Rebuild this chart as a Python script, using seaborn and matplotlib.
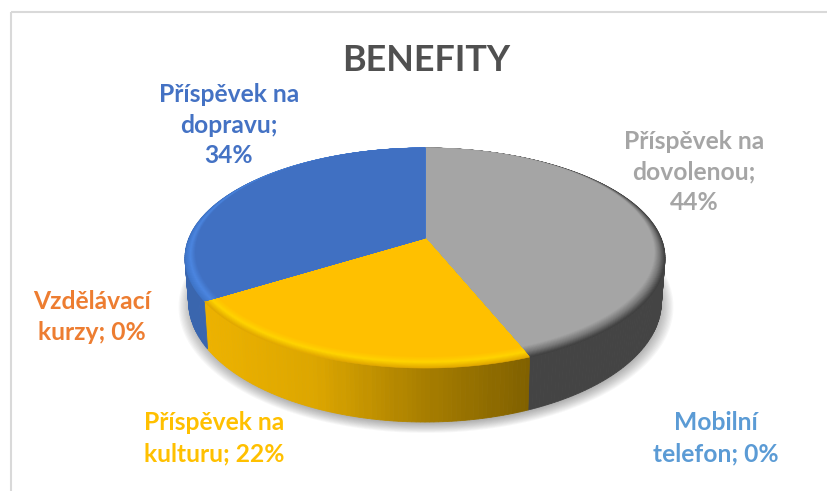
import numpy as np
import matplotlib
matplotlib.use("Agg")
import matplotlib.pyplot as plt
import seaborn as sns

TITLE = "BENEFITY"
categories = ["Příspěvek na\ndovolenou;\n44%", "Mobilní\ntelefon; 0%", "Příspěvek na\nkulturu; 22%",
              "Vzdělávací\nkurzy; 0%", "Příspěvek na\ndopravu;\n34%"]
shares = [44, 0, 22, 0, 34]
label_colors = ["#A5A5A5", "#5B9BD5", "#FFC000", "#ED7D31", "#4472C4"]
label_xy = [(694, 172), (716, 438), (214, 438), (92, 317), (229, 125)]

# rim shading (edge to inner) and side shading (left to right) of each slice
rim_ramps = [["#404040", "#7A7A7A", "#A5A5A5"], ["#5B9BD5"] * 3, ["#E2A800", "#FFD400", "#FFC000"],
             ["#ED7D31"] * 3, ["#3E74C8", "#4C86E0", "#4070C2"]]
side_ramps = [["#444444", "#444444"], ["#5B9BD5"] * 2, ["#EDB200", "#DCA600", "#A87E00", "#7F6000"],
              ["#ED7D31"] * 2, ["#3A66AE", "#3E6CBA"]]

sns.set_theme(style="white")
plt.rcParams["font.family"] = ["Lato", "DejaVu Sans"]

W, H = 827, 491
fig = plt.figure(figsize=(W / 100, H / 100), dpi=100)
ax = fig.add_axes([0, 0, 1, 1])
ax.set_xlim(0, W)
ax.set_ylim(H, 0)
ax.axis("off")

CX, CY, RX, RY, K = 425, 238, 236, 106.4, 0.1818
DEPTH = 42


def project(th, r=1.0, drop=False):
    u, v = r * np.sin(th), r * np.cos(th)
    s = 1 / (1 + K * v)
    x, y = u * s, v * s
    if drop:
        return CX + RX * x * 0.985, CY - RY * y + DEPTH * s ** 1.25
    return CX + RX * x, CY - RY * y


ax.add_patch(plt.Rectangle((11, 12), 900, 900, fill=False, ec="#D9D9D9", lw=1.5))

# soft shadow
th_all = np.linspace(0, 2 * np.pi, 241)
for grow in np.linspace(1.045, 0.99, 12):
    x, y = project(th_all, grow, True)
    ax.fill(x + 1, y + 3, color="#404040", alpha=0.04, lw=0, zorder=1)

edges = np.radians(np.cumsum([0] + shares) * 3.6)

# sides
for i in range(len(shares)):
    if shares[i] == 0:
        continue
    n = max(int(shares[i] * 4), 2)
    th = np.linspace(edges[i], edges[i + 1], n + 1)
    xt, yt = project(th)
    xb, yb = project(th, drop=True)
    pal = sns.blend_palette(side_ramps[i], 64)
    xmin, xmax = xt.min(), xt.max()
    for j in range(n):
        f = (0.5 * (xt[j] + xt[j + 1]) - xmin) / max(xmax - xmin, 1)
        c = pal[int(np.clip(f, 0, 1) * 63)]
        ax.fill([xt[j], xt[j + 1], xb[j + 1], xb[j]], [yt[j], yt[j + 1], yb[j + 1], yb[j]],
                color=c, ec=c, lw=0.6, zorder=2)

# tops with a bevelled rim that fades out towards the back of the disc
rim_steps = np.linspace(0, 1, 15)
for i in range(len(shares)):
    if shares[i] == 0:
        continue
    th = np.linspace(edges[i], edges[i + 1], 200)
    pal = sns.blend_palette(rim_ramps[i], len(rim_steps))
    for t, c in zip(rim_steps, pal):
        r = 1 - t * 0.075 * (1 - np.cos(th)) / 2
        x, y = project(th, r)
        ax.fill(np.r_[CX, x], np.r_[CY, y], color=c, ec=c, lw=0.4, zorder=3)

# labels
for text, col, (x, y) in zip(categories, label_colors, label_xy):
    ax.text(x, y, text, color=col, fontsize=17.7, fontweight="bold", ha="center", va="center",
            linespacing=1.42, zorder=5)
ax.text(426, 60, TITLE, color="#505050", fontsize=25.8, fontweight="bold", ha="center", va="center", zorder=5)

fig.savefig("out.png", dpi=100, facecolor="white")
